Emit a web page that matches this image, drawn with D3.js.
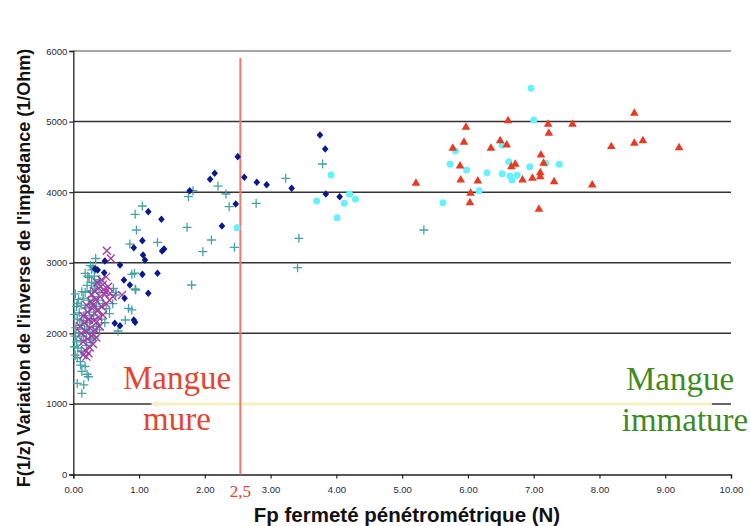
<!DOCTYPE html>
<html><head><meta charset="utf-8">
<script src="https://cdn.jsdelivr.net/npm/d3@7"></script>
<style>html,body{margin:0;padding:0;background:#fff;}svg{display:block;}</style>
</head><body>
<script>
// ---- data ----
const xTicks = [0,1,2,3,4,5,6,7,8,9,10];
const yTicks = [0,1000,2000,3000,4000,5000,6000];
const threshold = 2.54;           // "2,5"
const yellowLine = [[1.17,1000],[9.71,1000]];

const blueDiamonds = [[3.75,4810],[3.83,4612],[2.50,4503],[2.15,4267],[2.08,4182],[2.60,4211],[2.79,4140],[2.94,4106],[3.32,4055],[1.77,4021],[3.84,3974],[4.05,3936],[2.47,3833],[1.14,3724],[1.34,3616],[2.26,3521],[1.05,3313],[0.92,3213],[1.35,3167],[1.38,3195],[1.06,3110],[1.09,3039],[0.71,2968],[0.48,3025],[0.47,2859],[1.05,2836],[1.28,2851],[0.77,2756],[0.86,2685],[1.14,2567],[0.78,2497],[0.33,2912],[0.37,2898],[0.92,2189],[0.94,2157],[0.63,2142],[0.71,2108]];

const tealPlus = [[3.79,4399],[3.23,4196],[2.20,4087],[1.82,4021],[1.75,3936],[2.32,3974],[2.37,3795],[2.78,3842],[1.05,3804],[0.94,3686],[0.96,3464],[1.73,3502],[3.43,3346],[2.10,3322],[0.86,3265],[1.28,3290],[1.97,3157],[2.45,3219],[3.41,2930],[1.80,2685],[0.89,2836],[0.93,2851],[0.94,2628],[0.65,2576],[5.33,3464],[0.84,2355],[0.89,2331],[0.68,2033],[0.79,2189],[0.95,2614],[0.61,2638],[0.64,2543],
 [0.13,1150],[0.06,1290],[0.16,1270],[0.23,1385],[0.21,1420],[0.13,1460],[0.11,1550],[0.18,1530],[0.06,1655],[0.03,1690],[0.11,1600],[0.07,1790],[0.02,1810],[0.05,1880],[0.12,1900],[0.03,1960],[0.08,2000],[0.15,1960],[0.20,2010],[0.04,2080],[0.10,2110],[0.17,2060],[0.25,2090],[0.06,2200],[0.13,2180],[0.21,2150],[0.28,2200],[0.02,2270],[0.09,2290],[0.16,2250],[0.24,2300],[0.31,2260],[0.05,2380],[0.12,2400],[0.19,2360],[0.27,2410],[0.35,2380],[0.08,2480],[0.15,2500],[0.23,2470],[0.30,2520],[0.38,2470],[0.03,2560],[0.18,2580],[0.26,2600],[0.33,2640],[0.21,2680],[0.28,2720],[0.36,2700],[0.24,2790],[0.32,2810],[0.40,2760],[0.28,2900],[0.34,2910],[0.34,3060],[0.39,2580],[0.45,2420],[0.50,2350],[0.43,2200],[0.35,2100],[0.30,2020],[0.25,1920],[0.33,1950],[0.40,2050],[0.48,2150],[0.55,2280],[0.60,2420],[0.12,1750],[0.20,1830],[0.27,1870],[0.18,2850],[0.22,2810],[0.13,2590],[0.06,2425],[0.33,2710],[0.39,2730],[0.30,2940],[0.26,2960]];

const purpleX = [[0.51,3170],[0.57,3060],[0.45,2690],[0.56,2570],[0.20,1670],[0.23,1717],[0.18,1760],[0.25,1800],[0.30,1850],[0.15,1880],[0.22,1920],[0.28,1960],[0.35,1940],[0.12,2000],[0.19,2030],[0.26,2070],[0.33,2050],[0.40,2100],[0.17,2150],[0.24,2200],[0.31,2180],[0.38,2230],[0.45,2260],[0.22,2300],[0.29,2350],[0.36,2320],[0.43,2380],[0.50,2420],[0.27,2450],[0.34,2480],[0.41,2520],[0.48,2550],[0.32,2600],[0.39,2640],[0.46,2620],[0.36,2720],[0.43,2760],[0.50,2800],[0.55,2470],[0.60,2520],[0.15,2250],[0.10,2100],[0.28,2550],[0.20,2400],[0.53,2660],[0.49,2590],[0.74,2543],[0.30,2400],[0.38,2330],[0.36,2165],[0.23,2190],[0.15,1693]];

const cyanCircles = [[2.49,3497],[3.92,4243],[3.70,3875],[4.12,3842],[4.01,3638],[4.20,3974],[4.29,3899],[5.62,3851],[5.73,4395],[5.81,4583],[5.98,4314],[6.17,4021],[6.96,5472],[7.00,5023],[6.29,4276],[6.52,4668],[6.62,4432],[6.52,4262],[6.64,4229],[6.67,4173],[6.75,4239],[6.94,4361],[7.18,4409],[7.39,4395]];

const redTriangles = [[5.21,4126],[5.97,4919],[5.94,4707],[5.77,4622],[5.88,4371],[5.89,4173],[6.15,4158],[6.04,3984],[6.03,3851],[6.61,5013],[6.49,4729],[6.59,4668],[6.35,4622],[6.72,4395],[6.66,4361],[6.83,4173],[6.98,4197],[7.10,4276],[7.10,4219],[7.11,4527],[7.15,4409],[7.22,4962],[7.23,4834],[7.31,4149],[7.08,3758],[7.59,4962],[7.89,4102],[8.18,4645],[8.53,5118],[8.53,4693],[8.66,4729],[9.21,4630]];

const yTitle = "F(1/z) Variation de l'inverse de l'impédance (1/Ohm)";
const xTitle = "Fp fermeté pénétrométrique (N)";

// ---- drawing ----
const W = 750, H = 526;
const svg = d3.select("body").append("svg").attr("width", W).attr("height", H);
const x = d3.scaleLinear().domain([0,10]).range([73.3,731]);
const y = d3.scaleLinear().domain([0,6000]).range([474.5,51]);

// gridlines
svg.append("g").selectAll("line").data(yTicks.filter(d=>d>0)).join("line")
  .attr("x1", x(0)).attr("x2", x(10))
  .attr("y1", d=>y(d)).attr("y2", d=>y(d))
  .attr("stroke", d=> d===6000 ? "#8a8a8a" : "#333").attr("stroke-width", 1.5);

// yellow arrow line at 1000
const yl = svg.append("g");
yl.append("line").attr("x1", x(yellowLine[0][0])+6).attr("x2", x(yellowLine[1][0]))
  .attr("y1", y(yellowLine[0][1])).attr("y2", y(yellowLine[1][1]))
  .attr("stroke", "#f6f0c4").attr("stroke-width", 3);
yl.append("path").attr("transform", `translate(${x(yellowLine[0][0])},${y(yellowLine[0][1])})`)
  .attr("d","M0,0L8,-3.5L8,3.5Z").attr("fill","#f6f0c4");

// axes
const yAxis = d3.axisLeft(y).tickValues(yTicks).tickSize(4).tickFormat(d3.format("d"));
const gy = svg.append("g").attr("transform", `translate(${x(0)},0)`).call(yAxis);
const xAxis = d3.axisBottom(x).tickValues(xTicks).tickSize(4).tickFormat(d3.format(".2f"));
const gx = svg.append("g").attr("transform", `translate(0,${y(0)})`).call(xAxis);
[gy,gx].forEach(g=>{
  g.select(".domain").attr("stroke","#222").attr("stroke-width",1.3);
  g.selectAll(".tick line").attr("stroke","#222").attr("stroke-width",1.2);
  g.selectAll("text").attr("fill","#2a2a3a").style("font-family","'Liberation Sans',Arial,sans-serif").style("font-size","9.5px");
});
gy.selectAll("text").attr("x",-6);
gx.selectAll("text").attr("y",12);

// threshold
svg.append("line").attr("x1", x(threshold)).attr("x2", x(threshold))
  .attr("y1", 58).attr("y2", y(0))
  .attr("stroke","#ef7a6a").attr("stroke-width",2);
svg.append("text").attr("x", x(threshold)).attr("y", 497).attr("text-anchor","middle")
  .style("font-family","'Liberation Serif','Times New Roman',serif").style("font-size","17px")
  .attr("fill","#e8402a").text("2,5");

// markers
const plot = svg.append("g");
plot.append("g").selectAll("path").data(tealPlus).join("path")
  .attr("transform", d=>`translate(${x(d[0])},${y(d[1])})`)
  .attr("d","M-4.5,0H4.5M0,-4.5V4.5").attr("stroke","#44a3a3").attr("stroke-width",1.3).attr("fill","none");
plot.append("g").selectAll("path").data(purpleX).join("path")
  .attr("transform", d=>`translate(${x(d[0])},${y(d[1])})`)
  .attr("d","M-4,-4L4,4M-4,4L4,-4").attr("stroke","#a23ca6").attr("stroke-width",1.3).attr("fill","none");
plot.append("g").selectAll("path").data(blueDiamonds).join("path")
  .attr("transform", d=>`translate(${x(d[0])},${y(d[1])})`)
  .attr("d","M0,-3.8L3.3,0L0,3.8L-3.3,0Z").attr("fill","#0a1890");
plot.append("g").selectAll("circle").data(cyanCircles).join("circle")
  .attr("cx", d=>x(d[0])).attr("cy", d=>y(d[1])).attr("r",3.5).attr("fill","#66f2fa");
plot.append("g").selectAll("path").data(redTriangles).join("path")
  .attr("transform", d=>`translate(${x(d[0])},${y(d[1])})`)
  .attr("d", d3.symbol(d3.symbolTriangle, 32)).attr("fill","#ea3a22");

// annotations
const serif = "'Liberation Serif','Times New Roman',serif";
svg.append("text").attr("x",177).attr("y",389).attr("text-anchor","middle")
  .style("font-family",serif).style("font-size","33px").attr("fill","#e8432c").text("Mangue");
svg.append("text").attr("x",177).attr("y",430).attr("text-anchor","middle")
  .style("font-family",serif).style("font-size","33px").attr("fill","#e8432c").text("mure");
svg.append("text").attr("x",680).attr("y",390).attr("text-anchor","middle")
  .style("font-family",serif).style("font-size","33px").attr("fill","#3e8a1e").text("Mangue");
svg.append("text").attr("x",685).attr("y",431).attr("text-anchor","middle")
  .style("font-family",serif).style("font-size","33px").attr("fill","#3e8a1e").text("immature");

// titles
const sans = "'Liberation Sans',Arial,sans-serif";
svg.append("text").attr("transform","translate(30,268) rotate(-90)").attr("text-anchor","middle")
  .style("font-family",sans).style("font-weight","bold").style("font-size","18px").attr("fill","#111").text(yTitle);
svg.append("text").attr("x",407).attr("y",522).attr("text-anchor","middle")
  .style("font-family",sans).style("font-weight","bold").style("font-size","20.5px").attr("fill","#111").text(xTitle);
</script>
</body></html>
